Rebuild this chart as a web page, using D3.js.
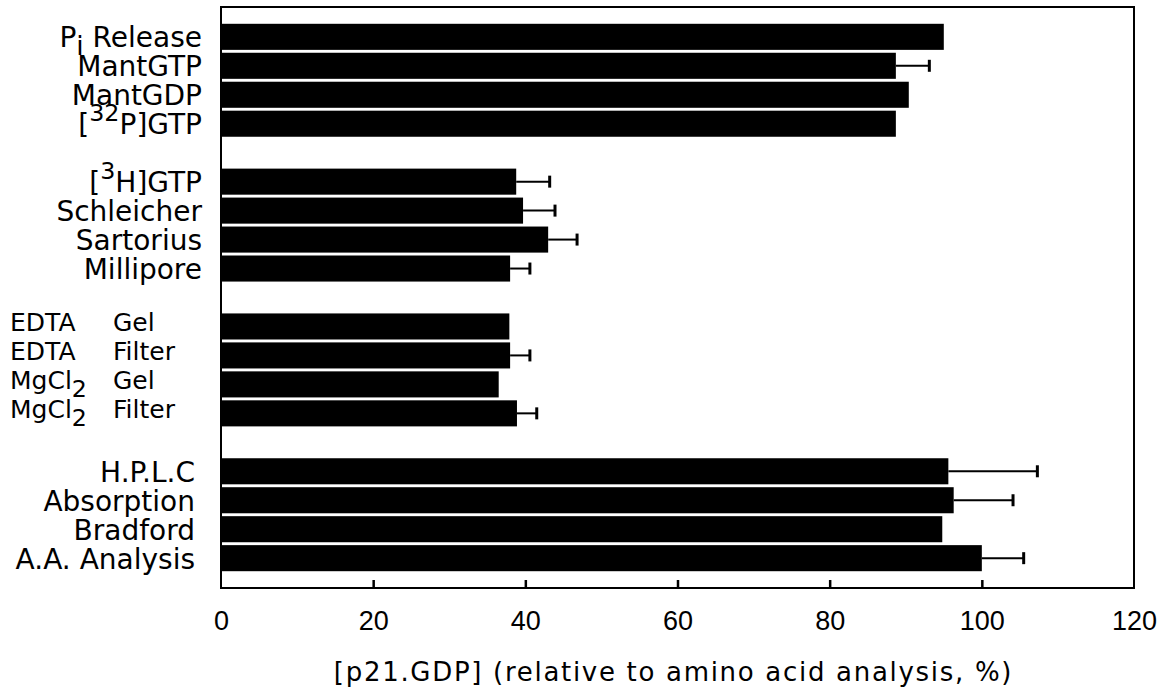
<!DOCTYPE html>
<html>
<head>
<meta charset="utf-8">
<script src="https://cdn.jsdelivr.net/npm/d3@7"></script>
<style>
  html, body { margin: 0; padding: 0; background: #fff; }
  svg { display: block; }
</style>
</head>
<body>
<svg id="chart" width="1169" height="697"></svg>
<script>
// ---- data ----
const categories = [
  "P_{i} Release", "MantGTP", "MantGDP", "[^{32}P]GTP",
  "[^{3}H]GTP", "Schleicher", "Sartorius", "Millipore",
  "EDTA\tGel", "EDTA\tFilter", "MgCl_{2}\tGel", "MgCl_{2}\tFilter",
  "H.P.L.C", "Absorption", "Bradford", "A.A. Analysis"
];
const groupOf = [0,0,0,0, 1,1,1,1, 2,2,2,2, 3,3,3,3];
const values  = [95.0, 88.7, 90.4, 88.7, 38.8, 39.7, 43.0, 38.0, 37.9, 38.0, 36.5, 38.9, 95.6, 96.3, 94.8, 100.0];
const errors  = [null, 4.4, null, null, 4.4, 4.2, 3.8, 2.6, null, 2.6, null, 2.6, 11.7, 7.8, null, 5.5];
const xTicks  = [0, 20, 40, 60, 80, 100, 120];
const xTitle  = "[p21.GDP] (relative to amino acid analysis, %)";

// ---- layout ----
const svg = d3.select("#chart");
const L = 221, R = 1134, T = 7, B = 588;

// band domain with spacer slots between groups
const slots = [];
categories.forEach((c, i) => {
  if (i > 0 && groupOf[i] !== groupOf[i - 1]) slots.push("__gap" + i);
  slots.push(c);
});

const x = d3.scaleLinear().domain([0, 120]).range([L, R]);
const y = d3.scaleBand().domain(slots).range([T, B]).paddingInner(0.1).paddingOuter(0.58);

const rows = categories.map((c, i) => ({ c, g: groupOf[i], v: values[i], e: errors[i] }));

// bars
svg.append("g").selectAll("rect").data(rows).join("rect")
  .attr("x", x(0))
  .attr("y", d => y(d.c))
  .attr("width", d => x(d.v) - x(0))
  .attr("height", y.bandwidth())
  .attr("fill", "#000");

// error bars (one-sided)
const eb = svg.append("g").attr("stroke", "#000");
const withErr = rows.filter(d => d.e != null);
eb.selectAll("line.h").data(withErr).join("line").attr("class", "h")
  .attr("x1", d => x(d.v)).attr("x2", d => x(d.v + d.e))
  .attr("y1", d => y(d.c) + y.bandwidth() / 2).attr("y2", d => y(d.c) + y.bandwidth() / 2)
  .attr("stroke-width", 2);
eb.selectAll("line.c").data(withErr).join("line").attr("class", "c")
  .attr("x1", d => x(d.v + d.e)).attr("x2", d => x(d.v + d.e))
  .attr("y1", d => y(d.c) + y.bandwidth() / 2 - 6).attr("y2", d => y(d.c) + y.bandwidth() / 2 + 6)
  .attr("stroke-width", 3);

// frame
svg.append("rect")
  .attr("x", L).attr("y", T).attr("width", R - L).attr("height", B - T)
  .attr("fill", "none").attr("stroke", "#000").attr("stroke-width", 2);

// x axis (inner ticks at bottom)
const xAxis = d3.axisBottom(x).tickValues(xTicks).tickSize(0).tickPadding(0).tickFormat(d3.format("d"));
const ax = svg.append("g").attr("transform", `translate(0,${B})`).call(xAxis);
ax.select(".domain").remove();
ax.selectAll(".tick text")
  .attr("y", 42).attr("dy", 0)
  .attr("font-family", "Liberation Sans, Arial, sans-serif")
  .attr("font-size", 27).attr("fill", "#000");
ax.selectAll(".tick").filter(d => d > 0 && d < 120).append("line")
  .attr("y1", 0).attr("y2", -8).attr("stroke", "#000").attr("stroke-width", 2.5);

// x title
svg.append("text")
  .attr("x", (L + R) / 2 - 4).attr("y", 681)
  .attr("text-anchor", "middle")
  .attr("font-family", "DejaVu Sans, sans-serif")
  .attr("font-size", 26).attr("letter-spacing", 1.7).attr("fill", "#000")
  .text(xTitle);

// category labels with simple markup: _{sub}, ^{sup}, \t column
const labelX = [202, 202, 10, 195];
const labelAnchor = ["end", "end", "start", "end"];
const labelSize = [28, 28, 25, 28];
const labelDy = [10, 10, 5, 11];
const colX = 113;

function renderLabel(textSel, s, size) {
  const re = /(_\{[^}]*\}|\^\{[^}]*\}|\t)/;
  const parts = s.split(re).filter(p => p !== "");
  let shift = 0;
  let pendingX = null;
  parts.forEach(p => {
    if (p === "\t") { pendingX = colX; return; }
    let ts;
    if (p.startsWith("_{")) {
      ts = textSel.append("tspan").attr("dy", size * 0.3 - shift).attr("font-size", size * 0.95).text(p.slice(2, -1));
      shift = size * 0.3;
    } else if (p.startsWith("^{")) {
      ts = textSel.append("tspan").attr("dy", -size * 0.45 - shift).attr("font-size", size * 0.85).text(p.slice(2, -1));
      shift = -size * 0.45;
    } else {
      ts = textSel.append("tspan").attr("dy", -shift).text(p);
      shift = 0;
    }
    if (pendingX !== null) { ts.attr("x", pendingX); pendingX = null; }
  });
}

const lg = svg.append("g")
  .attr("font-family", "DejaVu Sans, sans-serif")
  .attr("fill", "#000");
rows.forEach(d => {
  const t = lg.append("text")
    .attr("x", labelX[d.g])
    .attr("y", y(d.c) + y.bandwidth() / 2 + labelDy[d.g])
    .attr("text-anchor", labelAnchor[d.g])
    .attr("font-size", labelSize[d.g])
    .attr("xml:space", "preserve");
  renderLabel(t, d.c, labelSize[d.g]);
});
</script>
</body>
</html>
